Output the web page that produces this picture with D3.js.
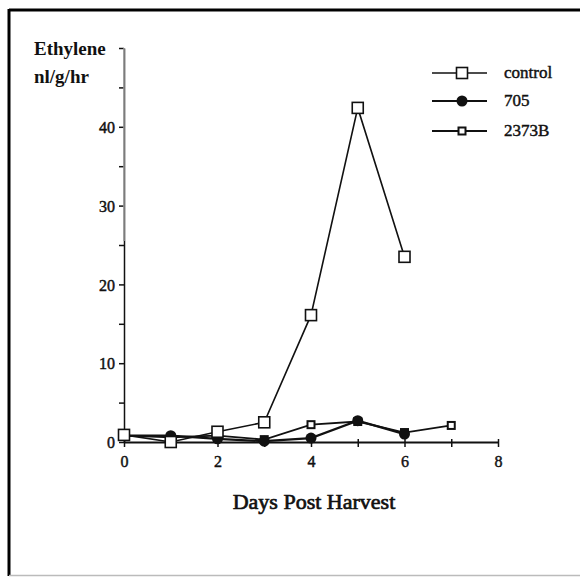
<!DOCTYPE html>
<html>
<head>
<meta charset="utf-8">
<script src="https://cdn.jsdelivr.net/npm/d3@7"></script>
<style>
  body { margin: 0; background: #fff; }
  text { font-family: "Liberation Serif", "DejaVu Serif", serif; fill: #111; stroke: #111; stroke-width: 0.45px; }
</style>
</head>
<body>
<div id="chart"></div>
<script>
// days post harvest
const days = [0, 1, 2, 3, 4, 5, 6, 7];
// ethylene nl/g/hr
const control = [0.9, 0.0, 1.3, 2.5, 16.1, 42.4, 23.5];
const line705 = [0.8, 0.8, 0.4, 0.1, 0.5, 2.7, 1.0];
const line2373B = [0.8, 0.6, 0.8, 0.3, 2.2, 2.6, 1.2, 2.1];
const seriesNames = ["control", "705", "2373B"];
const xTicks = [0, 2, 4, 6, 8];
const yTicks = [0, 10, 20, 30, 40];

const width = 580, height = 577;

const svg = d3.select("#chart").append("svg")
    .attr("width", width)
    .attr("height", height);

// frame
svg.append("line").attr("x1", 9).attr("x2", width).attr("y1", 10).attr("y2", 10)
    .attr("stroke", "#000").attr("stroke-width", 3);
svg.append("line").attr("x1", 9).attr("x2", 9).attr("y1", 9).attr("y2", 576)
    .attr("stroke", "#000").attr("stroke-width", 3);
svg.append("line").attr("x1", 9).attr("x2", width).attr("y1", 575.5).attr("y2", 575.5)
    .attr("stroke", "#bbb").attr("stroke-width", 1.5);

const x = d3.scaleLinear().domain([0, 8]).range([124, 498]);
const y = d3.scaleLinear().domain([0, 50]).range([442, 48]);

// x axis
const gx = svg.append("g").attr("transform", "translate(0," + y(0) + ")");
gx.call(d3.axisBottom(x).tickValues(d3.range(0, 9)).tickSize(6).tickSizeOuter(0)
    .tickFormat(d => xTicks.includes(d) ? d : ""));
gx.selectAll("text").style("font-size", "16px").attr("dy", "1.0em");
gx.select(".domain").attr("stroke", "#111").attr("stroke-width", 1.8);
gx.selectAll(".tick line").attr("stroke", "#111").attr("stroke-width", 1.5)
    .attr("y1", -3).attr("y2", 5);

// y axis
const gy = svg.append("g").attr("transform", "translate(" + x(0) + ",0)");
gy.call(d3.axisLeft(y).tickValues(d3.range(0, 51, 5)).tickSize(5).tickSizeOuter(0)
    .tickFormat(d => yTicks.includes(d) ? d : ""));
gy.selectAll("text").style("font-size", "16px").attr("x", -9).attr("dy", "0.35em");
gy.select(".domain").attr("stroke", "#111").attr("stroke-width", 1.5);
gy.selectAll(".tick line").attr("stroke", "#111").attr("stroke-width", 1.5);
// upper part of the axis is faint in the original
gy.append("line").attr("x1", 0).attr("x2", 0).attr("y1", y(50)).attr("y2", y(25.5))
    .attr("stroke", "#999").attr("stroke-width", 1.6);

// axis titles
svg.append("text").attr("x", 34).attr("y", 55)
    .style("font-size", "19px").style("font-weight", "bold").style("stroke-width", "0")
    .text("Ethylene");
svg.append("text").attr("x", 34).attr("y", 83)
    .style("font-size", "19px").style("font-weight", "bold").style("stroke-width", "0")
    .text("nl/g/hr");
svg.append("text").attr("x", 314).attr("y", 509).attr("text-anchor", "middle")
    .style("font-size", "22px").style("stroke-width", "0.7px").text("Days Post Harvest");

const line = d3.line().x((d, i) => x(days[i])).y(d => y(d));

const series = [
  {name: seriesNames[0], values: control, marker: "open", w: 1.6},
  {name: seriesNames[1], values: line705, marker: "dot", w: 2.2},
  {name: seriesNames[2], values: line2373B, marker: "small", w: 1.8}
];

function drawMarker(g, kind, cx, cy) {
  if (kind === "open") {
    g.append("rect").attr("x", cx - 5.5).attr("y", cy - 5.5).attr("width", 11).attr("height", 11)
        .attr("fill", "#fff").attr("stroke", "#111").attr("stroke-width", 1.6);
  } else if (kind === "dot") {
    g.append("circle").attr("cx", cx).attr("cy", cy).attr("r", 5.5).attr("fill", "#111");
  } else {
    g.append("rect").attr("x", cx - 3.5).attr("y", cy - 3.5).attr("width", 7).attr("height", 7)
        .attr("fill", "#fff").attr("stroke", "#111").attr("stroke-width", 2);
  }
}

// lines then markers
series.forEach(s => {
  svg.append("path").datum(s.values)
      .attr("d", line)
      .attr("fill", "none")
      .attr("stroke", "#111")
      .attr("stroke-width", s.w);
});
series.slice().reverse().forEach(s => {
  const g = svg.append("g");
  s.values.forEach((v, i) => drawMarker(g, s.marker, x(days[i]), y(v)));
});

// legend
const legY = [73, 101, 131];
series.forEach((s, i) => {
  const g = svg.append("g");
  g.append("line").attr("x1", 432).attr("x2", 487).attr("y1", legY[i]).attr("y2", legY[i])
      .attr("stroke", "#111").attr("stroke-width", s.w);
  drawMarker(g, s.marker, 462, legY[i]);
  g.append("text").attr("x", 504).attr("y", legY[i] + 5)
      .style("font-size", "17px").text(s.name);
});
</script>
</body>
</html>
